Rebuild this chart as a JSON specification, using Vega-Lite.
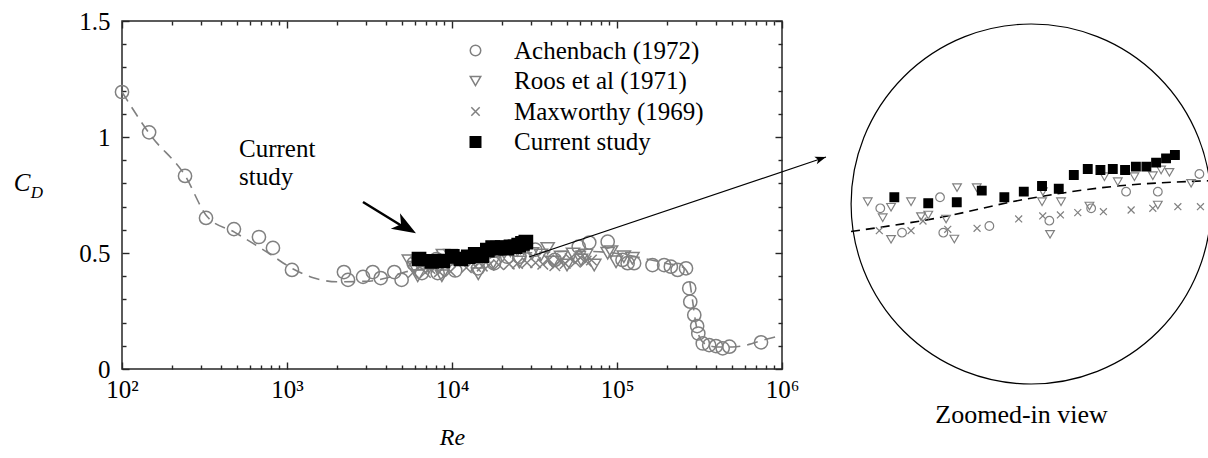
{
  "$schema": "https://vega.github.io/schema/vega-lite/v6.json",
  "width": 660,
  "height": 348,
  "padding": {"left": 13, "top": 9, "right": 0, "bottom": 0},
  "background": "white",
  "config": {
    "view": {"stroke": "#262626", "strokeWidth": 1.5},
    "font": "Liberation Serif",
    "axis": {"grid": false, "domain": false, "labelFlush": false, "labelOverlap": false, "tickColor": "#262626", "tickWidth": 1.4, "labelFont": "Liberation Serif", "labelFontSize": 25, "labelColor": "#000000", "titleFont": "Liberation Serif", "titleColor": "#000000", "titleFontWeight": "normal"},
    "legend": {"orient": "none", "legendX": 341, "legendY": 17, "padding": 0, "labelFont": "Liberation Serif", "labelFontSize": 25, "labelColor": "#000000", "labelLimit": 0, "symbolSize": 110, "symbolStrokeWidth": 1.5, "labelOffset": 26, "rowPadding": 4.5}
  },
  "datasets": {
    "pts": [
      {"series": "Roos et al (1971)", "Re": 5478, "CD": 0.4665},
      {"series": "Roos et al (1971)", "Re": 6200, "CD": 0.4569},
      {"series": "Roos et al (1971)", "Re": 5932, "CD": 0.4389},
      {"series": "Roos et al (1971)", "Re": 6896, "CD": 0.4665},
      {"series": "Roos et al (1971)", "Re": 7271, "CD": 0.4407},
      {"series": "Roos et al (1971)", "Re": 7557, "CD": 0.4436},
      {"series": "Roos et al (1971)", "Re": 8307, "CD": 0.4367},
      {"series": "Roos et al (1971)", "Re": 8680, "CD": 0.4022},
      {"series": "Roos et al (1971)", "Re": 8807, "CD": 0.4907},
      {"series": "Roos et al (1971)", "Re": 9778, "CD": 0.4907},
      {"series": "Roos et al (1971)", "Re": 6200, "CD": 0.4017},
      {"series": "Roos et al (1971)", "Re": 13835, "CD": 0.4665},
      {"series": "Roos et al (1971)", "Re": 13900, "CD": 0.4838},
      {"series": "Roos et al (1971)", "Re": 15303, "CD": 0.4665},
      {"series": "Roos et al (1971)", "Re": 14436, "CD": 0.4103},
      {"series": "Roos et al (1971)", "Re": 17799, "CD": 0.4591},
      {"series": "Roos et al (1971)", "Re": 19274, "CD": 0.5096},
      {"series": "Roos et al (1971)", "Re": 20695, "CD": 0.501},
      {"series": "Roos et al (1971)", "Re": 22607, "CD": 0.5096},
      {"series": "Roos et al (1971)", "Re": 24928, "CD": 0.5113},
      {"series": "Roos et al (1971)", "Re": 25601, "CD": 0.4608},
      {"series": "Roos et al (1971)", "Re": 26050, "CD": 0.5212},
      {"series": "Roos et al (1971)", "Re": 27227, "CD": 0.5172},
      {"series": "Roos et al (1971)", "Re": 30554, "CD": 0.4982},
      {"series": "Roos et al (1971)", "Re": 34600, "CD": 0.491},
      {"series": "Roos et al (1971)", "Re": 38000, "CD": 0.52},
      {"series": "Roos et al (1971)", "Re": 40900, "CD": 0.461},
      {"series": "Roos et al (1971)", "Re": 45800, "CD": 0.483},
      {"series": "Roos et al (1971)", "Re": 49800, "CD": 0.448},
      {"series": "Roos et al (1971)", "Re": 54100, "CD": 0.496},
      {"series": "Roos et al (1971)", "Re": 60500, "CD": 0.47},
      {"series": "Roos et al (1971)", "Re": 64900, "CD": 0.491},
      {"series": "Roos et al (1971)", "Re": 72800, "CD": 0.448},
      {"series": "Roos et al (1971)", "Re": 87800, "CD": 0.499},
      {"series": "Roos et al (1971)", "Re": 92000, "CD": 0.506},
      {"series": "Roos et al (1971)", "Re": 98700, "CD": 0.462},
      {"series": "Roos et al (1971)", "Re": 110000, "CD": 0.484},
      {"series": "Roos et al (1971)", "Re": 124000, "CD": 0.477},
      {"series": "Maxworthy (1969)", "Re": 5826, "CD": 0.4165},
      {"series": "Maxworthy (1969)", "Re": 6896, "CD": 0.4165},
      {"series": "Maxworthy (1969)", "Re": 7348, "CD": 0.4332},
      {"series": "Maxworthy (1969)", "Re": 8382, "CD": 0.4189},
      {"series": "Maxworthy (1969)", "Re": 9795, "CD": 0.4207},
      {"series": "Maxworthy (1969)", "Re": 12221, "CD": 0.4367},
      {"series": "Maxworthy (1969)", "Re": 13888, "CD": 0.4419},
      {"series": "Maxworthy (1969)", "Re": 15253, "CD": 0.4436},
      {"series": "Maxworthy (1969)", "Re": 16730, "CD": 0.4476},
      {"series": "Maxworthy (1969)", "Re": 19170, "CD": 0.4493},
      {"series": "Maxworthy (1969)", "Re": 22216, "CD": 0.4522},
      {"series": "Maxworthy (1969)", "Re": 24928, "CD": 0.4551},
      {"series": "Maxworthy (1969)", "Re": 28477, "CD": 0.4579},
      {"series": "Maxworthy (1969)", "Re": 32110, "CD": 0.4579},
      {"series": "Maxworthy (1969)", "Re": 35500, "CD": 0.452},
      {"series": "Maxworthy (1969)", "Re": 38500, "CD": 0.47},
      {"series": "Maxworthy (1969)", "Re": 42000, "CD": 0.445},
      {"series": "Maxworthy (1969)", "Re": 45000, "CD": 0.465},
      {"series": "Maxworthy (1969)", "Re": 48500, "CD": 0.455},
      {"series": "Maxworthy (1969)", "Re": 52000, "CD": 0.475},
      {"series": "Maxworthy (1969)", "Re": 56000, "CD": 0.46},
      {"series": "Maxworthy (1969)", "Re": 60000, "CD": 0.48},
      {"series": "Maxworthy (1969)", "Re": 65000, "CD": 0.465},
      {"series": "Maxworthy (1969)", "Re": 70000, "CD": 0.47},
      {"series": "Achenbach (1972)", "Re": 100, "CD": 1.194},
      {"series": "Achenbach (1972)", "Re": 146, "CD": 1.02},
      {"series": "Achenbach (1972)", "Re": 241, "CD": 0.832},
      {"series": "Achenbach (1972)", "Re": 323, "CD": 0.651},
      {"series": "Achenbach (1972)", "Re": 477, "CD": 0.603},
      {"series": "Achenbach (1972)", "Re": 676, "CD": 0.569},
      {"series": "Achenbach (1972)", "Re": 822, "CD": 0.522},
      {"series": "Achenbach (1972)", "Re": 1072, "CD": 0.427},
      {"series": "Achenbach (1972)", "Re": 2213, "CD": 0.418},
      {"series": "Achenbach (1972)", "Re": 2343, "CD": 0.384},
      {"series": "Achenbach (1972)", "Re": 2890, "CD": 0.397},
      {"series": "Achenbach (1972)", "Re": 3310, "CD": 0.418},
      {"series": "Achenbach (1972)", "Re": 3700, "CD": 0.392},
      {"series": "Achenbach (1972)", "Re": 4470, "CD": 0.418},
      {"series": "Achenbach (1972)", "Re": 4950, "CD": 0.384},
      {"series": "Achenbach (1972)", "Re": 5856, "CD": 0.4551},
      {"series": "Achenbach (1972)", "Re": 6574, "CD": 0.4131},
      {"series": "Achenbach (1972)", "Re": 8044, "CD": 0.4741},
      {"series": "Achenbach (1972)", "Re": 8186, "CD": 0.4131},
      {"series": "Achenbach (1972)", "Re": 10457, "CD": 0.4246},
      {"series": "Achenbach (1972)", "Re": 14383, "CD": 0.4338},
      {"series": "Achenbach (1972)", "Re": 17963, "CD": 0.4551},
      {"series": "Achenbach (1972)", "Re": 21627, "CD": 0.4838},
      {"series": "Achenbach (1972)", "Re": 25600, "CD": 0.4838},
      {"series": "Achenbach (1972)", "Re": 31933, "CD": 0.5143},
      {"series": "Achenbach (1972)", "Re": 42000, "CD": 0.47},
      {"series": "Achenbach (1972)", "Re": 58600, "CD": 0.527},
      {"series": "Achenbach (1972)", "Re": 67900, "CD": 0.545},
      {"series": "Achenbach (1972)", "Re": 87800, "CD": 0.549},
      {"series": "Achenbach (1972)", "Re": 108000, "CD": 0.47},
      {"series": "Achenbach (1972)", "Re": 116000, "CD": 0.456},
      {"series": "Achenbach (1972)", "Re": 127000, "CD": 0.456},
      {"series": "Achenbach (1972)", "Re": 164000, "CD": 0.448},
      {"series": "Achenbach (1972)", "Re": 193000, "CD": 0.448},
      {"series": "Achenbach (1972)", "Re": 212000, "CD": 0.441},
      {"series": "Achenbach (1972)", "Re": 233000, "CD": 0.427},
      {"series": "Achenbach (1972)", "Re": 262000, "CD": 0.434},
      {"series": "Achenbach (1972)", "Re": 274000, "CD": 0.348},
      {"series": "Achenbach (1972)", "Re": 278000, "CD": 0.29},
      {"series": "Achenbach (1972)", "Re": 294000, "CD": 0.233},
      {"series": "Achenbach (1972)", "Re": 306000, "CD": 0.185},
      {"series": "Achenbach (1972)", "Re": 311000, "CD": 0.153},
      {"series": "Achenbach (1972)", "Re": 331000, "CD": 0.11},
      {"series": "Achenbach (1972)", "Re": 362000, "CD": 0.103},
      {"series": "Achenbach (1972)", "Re": 398000, "CD": 0.099},
      {"series": "Achenbach (1972)", "Re": 437000, "CD": 0.089},
      {"series": "Achenbach (1972)", "Re": 480000, "CD": 0.096},
      {"series": "Achenbach (1972)", "Re": 746000, "CD": 0.115},
      {"series": "Current study", "Re": 6310, "CD": 0.4741},
      {"series": "Current study", "Re": 7557, "CD": 0.4638},
      {"series": "Current study", "Re": 8793, "CD": 0.4655},
      {"series": "Current study", "Re": 10042, "CD": 0.4855},
      {"series": "Current study", "Re": 11324, "CD": 0.4741},
      {"series": "Current study", "Re": 12555, "CD": 0.4838},
      {"series": "Current study", "Re": 13835, "CD": 0.4936},
      {"series": "Current study", "Re": 15120, "CD": 0.4889},
      {"series": "Current study", "Re": 16380, "CD": 0.5125},
      {"series": "Current study", "Re": 17640, "CD": 0.5229},
      {"series": "Current study", "Re": 18870, "CD": 0.5212},
      {"series": "Current study", "Re": 20150, "CD": 0.5229},
      {"series": "Current study", "Re": 21510, "CD": 0.5212},
      {"series": "Current study", "Re": 22780, "CD": 0.5269},
      {"series": "Current study", "Re": 24090, "CD": 0.5269},
      {"series": "Current study", "Re": 25370, "CD": 0.5338},
      {"series": "Current study", "Re": 26750, "CD": 0.5413},
      {"series": "Current study", "Re": 28030, "CD": 0.547}
    ],
    "fit": [
      {"Re": 100, "CD": 1.194},
      {"Re": 150, "CD": 1.005},
      {"Re": 240, "CD": 0.836},
      {"Re": 330, "CD": 0.655},
      {"Re": 480, "CD": 0.59},
      {"Re": 770, "CD": 0.5},
      {"Re": 1090, "CD": 0.431},
      {"Re": 1460, "CD": 0.392},
      {"Re": 2000, "CD": 0.376},
      {"Re": 3000, "CD": 0.378},
      {"Re": 4000, "CD": 0.392},
      {"Re": 5012, "CD": 0.4151},
      {"Re": 8087, "CD": 0.4396},
      {"Re": 12374, "CD": 0.4694},
      {"Re": 19970, "CD": 0.4924},
      {"Re": 33960, "CD": 0.5027},
      {"Re": 60000, "CD": 0.508},
      {"Re": 100000, "CD": 0.498},
      {"Re": 150000, "CD": 0.475},
      {"Re": 200000, "CD": 0.455},
      {"Re": 250000, "CD": 0.44},
      {"Re": 270000, "CD": 0.41},
      {"Re": 285000, "CD": 0.31},
      {"Re": 300000, "CD": 0.2},
      {"Re": 320000, "CD": 0.13},
      {"Re": 350000, "CD": 0.105},
      {"Re": 400000, "CD": 0.095},
      {"Re": 500000, "CD": 0.095},
      {"Re": 600000, "CD": 0.102},
      {"Re": 800000, "CD": 0.128},
      {"Re": 1000000, "CD": 0.145}
    ],
    "notes": [
      {"Re": 511.5, "CD": 0.915, "text": "Current\nstudy"}
    ],
    "symbolC": [{"Re": 24.8, "CD": 0.802, "text": "C"}],
    "symbolD": [{"Re": 30.5, "CD": 0.759, "text": "D"}],
    "arrowThick": [{"Re": 2888, "CD": 0.72, "Re2": 5263, "CD2": 0.6056}],
    "arrowThin": [{"Re": 29290, "CD": 0.4828, "Re2": 1848000, "CD2": 0.9138}],
    "headThick": [{"Re": 6050, "CD": 0.585}],
    "headThin": [{"Re": 1848000, "CD": 0.9138}],
    "lens": [{"Re": 13054, "CD": 0.4625}],
    "lensTitle": [{"Re": 12410, "CD": 0.0845, "text": "Zoomed-in view"}]
  },
  "layer": [
    {
      "layer": [
        {
          "data": {"name": "fit"},
          "mark": {"type": "line", "stroke": "#808080", "strokeWidth": 1.6, "strokeDash": [11, 7], "interpolate": "monotone"},
          "encoding": {
            "x": {"field": "Re", "type": "quantitative", "scale": {"type": "log", "domain": [100, 1000000]},
                  "axis": {"orient": "bottom", "values": [200,300,400,500,600,700,800,900,2000,3000,4000,5000,6000,7000,8000,9000,20000,30000,40000,50000,60000,70000,80000,90000,200000,300000,400000,500000,600000,700000,800000,900000], "labels": false, "tickSize": -4, "title": null}},
            "y": {"field": "CD", "type": "quantitative", "scale": {"domain": [0, 1.5]},
                  "axis": {"orient": "left", "values": [0.1,0.2,0.3,0.4,0.6,0.7,0.8,0.9,1.1,1.2,1.3,1.4], "labels": false, "tickSize": -4, "title": null}}
          }
        },
        {
          "data": {"name": "pts"},
          "mark": {"type": "point", "size": 175, "strokeWidth": 1.5, "opacity": 1},
          "encoding": {
            "x": {"field": "Re", "type": "quantitative", "scale": {"type": "log", "domain": [100, 1000000]},
                  "axis": {"orient": "bottom", "values": [100, 1000, 10000, 100000, 1000000], "labelFlush": false, "labelExpr": "datum.value == 100 ? '10²' : datum.value == 1000 ? '10³' : datum.value == 10000 ? '10⁴' : datum.value == 100000 ? '10⁵' : '10⁶'", "tickSize": -7, "labelPadding": 15, "title": "Re", "titleFontStyle": "italic", "titleFontSize": 24, "titlePadding": 23}},
            "y": {"field": "CD", "type": "quantitative", "scale": {"domain": [0, 1.5]},
                  "axis": {"orient": "left", "values": [0, 0.5, 1, 1.5], "format": "~g", "tickSize": -7, "labelPadding": 19, "title": null}},
            "shape": {"field": "series", "type": "nominal",
                      "scale": {"domain": ["Achenbach (1972)", "Roos et al (1971)", "Maxworthy (1969)", "Current study"], "range": ["circle", "triangle-down", "M-0.8,-0.8L0.8,0.8M-0.8,0.8L0.8,-0.8", "square"]},
                      "legend": {"title": null, "orient": "none", "legendX": 341, "legendY": 17, "labelLimit": 0}},
            "stroke": {"field": "series", "type": "nominal",
                       "scale": {"domain": ["Achenbach (1972)", "Roos et al (1971)", "Maxworthy (1969)", "Current study"], "range": ["#808080", "#808080", "#808080", "#000000"]},
                       "legend": {"title": null, "orient": "none", "legendX": 341, "legendY": 17, "labelLimit": 0}},
            "fill": {"field": "series", "type": "nominal",
                     "scale": {"domain": ["Achenbach (1972)", "Roos et al (1971)", "Maxworthy (1969)", "Current study"], "range": ["transparent", "transparent", "transparent", "#000000"]},
                     "legend": {"title": null, "orient": "none", "legendX": 341, "legendY": 17, "labelLimit": 0}}
          }
        },
        {
          "data": {"name": "notes"},
          "mark": {"type": "text", "align": "left", "baseline": "alphabetic", "fontSize": 25, "font": "Liberation Serif", "color": "#000000", "lineBreak": "\n", "lineHeight": 28.5},
          "encoding": {
            "x": {"field": "Re", "type": "quantitative", "scale": {"type": "log", "domain": [100, 1000000]},
                  "axis": {"orient": "top", "values": [100, 1000, 10000, 100000, 1000000], "labels": false, "tickSize": -7, "title": null}},
            "y": {"field": "CD", "type": "quantitative", "scale": {"domain": [0, 1.5]},
                  "axis": {"orient": "right", "values": [0, 0.5, 1, 1.5], "labels": false, "tickSize": -7, "title": null}},
            "text": {"field": "text", "type": "nominal"}
          }
        },
        {
          "data": {"name": "arrowThick"},
          "mark": {"type": "rule", "color": "#000000", "strokeWidth": 2.5},
          "encoding": {
            "x": {"field": "Re", "type": "quantitative", "scale": {"type": "log", "domain": [100, 1000000]},
                  "axis": {"orient": "top", "values": [200,300,400,500,600,700,800,900,2000,3000,4000,5000,6000,7000,8000,9000,20000,30000,40000,50000,60000,70000,80000,90000,200000,300000,400000,500000,600000,700000,800000,900000], "labels": false, "tickSize": -4, "title": null}},
            "y": {"field": "CD", "type": "quantitative", "scale": {"domain": [0, 1.5]},
                  "axis": {"orient": "right", "values": [0.1,0.2,0.3,0.4,0.6,0.7,0.8,0.9,1.1,1.2,1.3,1.4], "labels": false, "tickSize": -4, "title": null}},
            "x2": {"field": "Re2"},
            "y2": {"field": "CD2"}
          }
        },
        {
          "data": {"name": "arrowThin"},
          "mark": {"type": "rule", "color": "#000000", "strokeWidth": 1.1},
          "encoding": {
            "x": {"field": "Re", "type": "quantitative", "scale": {"type": "log", "domain": [100, 1000000]}, "axis": null},
            "y": {"field": "CD", "type": "quantitative", "scale": {"domain": [0, 1.5]}, "axis": null},
            "x2": {"field": "Re2"},
            "y2": {"field": "CD2"}
          }
        },
        {
          "data": {"name": "headThick"},
          "mark": {"type": "point", "shape": "M0,0L-2,-0.75L-1.45,0L-2,0.75Z", "size": 576, "angle": 30.8, "filled": true, "color": "#000000", "opacity": 1},
          "encoding": {
            "x": {"field": "Re", "type": "quantitative", "scale": {"type": "log", "domain": [100, 1000000]}, "axis": null},
            "y": {"field": "CD", "type": "quantitative", "scale": {"domain": [0, 1.5]}, "axis": null}
          }
        },
        {
          "data": {"name": "headThin"},
          "mark": {"type": "point", "shape": "M0,0L-2,-0.7L-1.5,0L-2,0.7Z", "size": 121, "angle": -18.6, "filled": true, "color": "#000000", "opacity": 1},
          "encoding": {
            "x": {"field": "Re", "type": "quantitative", "scale": {"type": "log", "domain": [100, 1000000]}, "axis": null},
            "y": {"field": "CD", "type": "quantitative", "scale": {"domain": [0, 1.5]}, "axis": null}
          }
        },
        {
          "data": {"name": "symbolC"},
          "mark": {"type": "text", "align": "center", "baseline": "middle", "fontSize": 25, "fontStyle": "italic", "font": "Liberation Serif", "color": "#000000"},
          "encoding": {
            "x": {"field": "Re", "type": "quantitative", "scale": {"type": "log", "domain": [100, 1000000]}, "axis": null},
            "y": {"field": "CD", "type": "quantitative", "scale": {"domain": [0, 1.5]}, "axis": null},
            "text": {"field": "text", "type": "nominal"}
          }
        },
        {
          "data": {"name": "symbolD"},
          "mark": {"type": "text", "align": "center", "baseline": "middle", "fontSize": 17, "fontStyle": "italic", "font": "Liberation Serif", "color": "#000000"},
          "encoding": {
            "x": {"field": "Re", "type": "quantitative", "scale": {"type": "log", "domain": [100, 1000000]}, "axis": null},
            "y": {"field": "CD", "type": "quantitative", "scale": {"domain": [0, 1.5]}, "axis": null},
            "text": {"field": "text", "type": "nominal"}
          }
        }
      ],
      "resolve": {"axis": {"x": "independent", "y": "independent"}}
    },
    {
      "layer": [
        {
          "data": {"name": "fit"},
          "transform": [{"filter": {"field": "Re", "range": [5012, 33963]}}],
          "mark": {"type": "line", "stroke": "#000000", "strokeWidth": 1.6, "strokeDash": [9, 6], "interpolate": "monotone"},
          "encoding": {
            "x": {"field": "Re", "type": "quantitative", "scale": {"type": "log", "domain": [5012, 33963], "range": [729, 1089]}, "axis": null},
            "y": {"field": "CD", "type": "quantitative", "scale": {"domain": [0.1574, 0.778], "range": [360, 0]}, "axis": null}
          }
        },
        {
          "data": {"name": "pts"},
          "transform": [{"filter": {"field": "Re", "range": [5012, 33963]}}],
          "mark": {"type": "point", "size": 75, "strokeWidth": 1.2, "opacity": 1},
          "encoding": {
            "x": {"field": "Re", "type": "quantitative", "scale": {"type": "log", "domain": [5012, 33963], "range": [729, 1089]}, "axis": null},
            "y": {"field": "CD", "type": "quantitative", "scale": {"domain": [0.1574, 0.778], "range": [360, 0]}, "axis": null},
            "shape": {"field": "series", "type": "nominal",
                      "scale": {"domain": ["Achenbach (1972)", "Roos et al (1971)", "Maxworthy (1969)", "Current study"], "range": ["circle", "triangle-down", "M-0.8,-0.8L0.8,0.8M-0.8,0.8L0.8,-0.8", "square"]},
                      "legend": {"title": null, "orient": "none", "legendX": 341, "legendY": 17, "labelLimit": 0}},
            "stroke": {"field": "series", "type": "nominal",
                       "scale": {"domain": ["Achenbach (1972)", "Roos et al (1971)", "Maxworthy (1969)", "Current study"], "range": ["#808080", "#808080", "#808080", "#000000"]},
                       "legend": {"title": null, "orient": "none", "legendX": 341, "legendY": 17, "labelLimit": 0}},
            "fill": {"field": "series", "type": "nominal",
                     "scale": {"domain": ["Achenbach (1972)", "Roos et al (1971)", "Maxworthy (1969)", "Current study"], "range": ["transparent", "transparent", "transparent", "#000000"]},
                     "legend": {"title": null, "orient": "none", "legendX": 341, "legendY": 17, "labelLimit": 0}}
          }
        },
        {
          "data": {"name": "lens"},
          "mark": {"type": "point", "shape": "circle", "size": 129600, "filled": false, "stroke": "#000000", "strokeWidth": 1.2, "opacity": 1},
          "encoding": {
            "x": {"field": "Re", "type": "quantitative", "scale": {"type": "log", "domain": [5012, 33963], "range": [729, 1089]}, "axis": null},
            "y": {"field": "CD", "type": "quantitative", "scale": {"domain": [0.1574, 0.778], "range": [360, 0]}, "axis": null}
          }
        },
        {
          "data": {"name": "lensTitle"},
          "mark": {"type": "text", "align": "center", "baseline": "alphabetic", "fontSize": 26, "font": "Liberation Serif", "color": "#000000"},
          "encoding": {
            "x": {"field": "Re", "type": "quantitative", "scale": {"type": "log", "domain": [5012, 33963], "range": [729, 1089]}, "axis": null},
            "y": {"field": "CD", "type": "quantitative", "scale": {"domain": [0.1574, 0.778], "range": [360, 0]}, "axis": null},
            "text": {"field": "text", "type": "nominal"}
          }
        }
      ]
    }
  ],
  "resolve": {"scale": {"x": "independent", "y": "independent"}}
}
